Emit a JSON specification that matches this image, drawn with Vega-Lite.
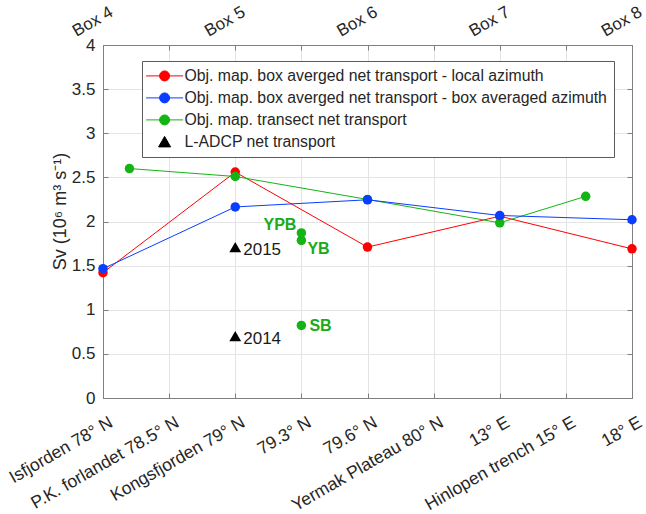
{
  "$schema": "https://vega.github.io/schema/vega-lite/v6.json",
  "autosize": "none",
  "padding": {"left": 103, "top": 45, "right": 14, "bottom": 116},
  "width": 529,
  "height": 353,
  "background": "white",
  "config": {
    "view": {"stroke": null},
    "font": "Liberation Sans",
    "axis": {
      "labelFont": "Liberation Sans",
      "titleFont": "Liberation Sans",
      "labelFontSize": 17,
      "labelColor": "#262626",
      "titleColor": "#262626",
      "domainColor": "#808080",
      "tickColor": "#808080",
      "domainWidth": 1,
      "tickWidth": 1,
      "tickSize": -5,
      "gridColor": "#e4e4e4",
      "gridWidth": 1,
      "labelFlush": false,
      "labelOverlap": false,
      "labelBound": false
    }
  },
  "data": {
    "values": [
      {"series": "Obj. map. box averged net transport - local azimuth", "x": 0, "y": 1.42},
      {"series": "Obj. map. box averged net transport - local azimuth", "x": 2, "y": 2.56},
      {"series": "Obj. map. box averged net transport - local azimuth", "x": 4, "y": 1.71},
      {"series": "Obj. map. box averged net transport - local azimuth", "x": 6, "y": 2.06},
      {"series": "Obj. map. box averged net transport - local azimuth", "x": 8, "y": 1.69},
      {"series": "Obj. map. transect net transport", "x": 0.4, "y": 2.6},
      {"series": "Obj. map. transect net transport", "x": 2, "y": 2.51},
      {"series": "Obj. map. transect net transport", "x": 4, "y": 2.25},
      {"series": "Obj. map. transect net transport", "x": 6, "y": 1.985},
      {"series": "Obj. map. transect net transport", "x": 7.3, "y": 2.285},
      {"series": "Obj. map. transect net transport", "x": 3, "y": 1.87, "label": "YPB"},
      {"series": "Obj. map. transect net transport", "x": 3, "y": 1.785, "label": "YB"},
      {"series": "Obj. map. transect net transport", "x": 3, "y": 0.822, "label": "SB"},
      {"series": "Obj. map. box averged net transport - box averaged azimuth", "x": 0, "y": 1.465},
      {"series": "Obj. map. box averged net transport - box averaged azimuth", "x": 2, "y": 2.165},
      {"series": "Obj. map. box averged net transport - box averaged azimuth", "x": 4, "y": 2.246},
      {"series": "Obj. map. box averged net transport - box averaged azimuth", "x": 6, "y": 2.068},
      {"series": "Obj. map. box averged net transport - box averaged azimuth", "x": 8, "y": 2.02},
      {"series": "L-ADCP net transport", "x": 2, "y": 1.71, "label": "2015"},
      {"series": "L-ADCP net transport", "x": 2, "y": 0.7, "label": "2014"}
    ]
  },
  "resolve": {"axis": {"x": "independent", "y": "independent"}},
  "layer": [
    {
      "transform": [{"filter": "datum.series != 'L-ADCP net transport' && !datum.label"}],
      "mark": {"type": "line", "strokeWidth": 1},
      "encoding": {
        "x": {
          "field": "x", "type": "quantitative",
          "scale": {"domain": [0, 8], "nice": false, "zero": false},
          "axis": {
            "orient": "bottom", "title": null, "grid": true,
            "values": [0, 1, 2, 3, 4, 5, 6, 7, 8],
            "labelExpr": "['Isfjorden 78° N', 'P.K. forlandet 78.5° N', 'Kongsfjorden 79° N', '79.3° N', '79.6° N', 'Yermak Plateau 80° N', '13° E', 'Hinlopen trench 15° E', '18° E'][datum.value]",
            "labelFontSize": 17.5,
            "labelAngle": -30, "labelAlign": "right", "labelBaseline": "top",
            "labelOffset": 3.5, "labelPadding": 20
          }
        },
        "y": {
          "field": "y", "type": "quantitative",
          "scale": {"domain": [0, 4], "nice": false},
          "axis": {
            "orient": "left", "grid": true,
            "values": [0, 0.5, 1, 1.5, 2, 2.5, 3, 3.5, 4], "format": "~g",
            "labelPadding": 13,
            "title": "Sv (10⁶ m³ s⁻¹)", "titleFontSize": 18, "titleFontWeight": "normal",
            "titleAngle": -90, "titleAlign": "center", "titleBaseline": "alphabetic",
            "titleX": -38, "titleY": 166
          }
        },
        "color": {
          "field": "series", "type": "nominal",
          "scale": {
            "domain": [
              "Obj. map. box averged net transport - local azimuth",
              "Obj. map. box averged net transport - box averaged azimuth",
              "Obj. map. transect net transport",
              "L-ADCP net transport"
            ],
            "range": ["#ff0000", "#0a3dff", "#14b414", "#000000"]
          },
          "legend": {
            "orient": "none", "legendX": 39, "legendY": 16,
            "title": null, "padding": 7,
            "strokeColor": "#5a5a5a", "fillColor": "white",
            "labelFont": "Liberation Sans", "labelFontSize": 15.8, "labelColor": "#262626",
            "labelLimit": 600, "symbolSize": 100, "symbolOffset": 7.7, "labelOffset": 12,
            "rowPadding": 5,
            "encode": {
              "symbols": {
                "update": {
                  "shape": {"signal": "datum.value == 'L-ADCP net transport' ? 'M -1.2 1 L 1.2 1 L 0 -1.1 Z' : 'M -3.7 0 L 3.7 0 M 1 0 A 1 1 0 1 1 -1 0 A 1 1 0 1 1 1 0 Z'"},
                  "fill": {"scale": "color", "field": "value"},
                  "stroke": {"scale": "color", "field": "value"},
                  "strokeWidth": {"value": 1},
                  "opacity": {"value": 1},
                  "size": {"value": 100}
                }
              }
            }
          }
        }
      }
    },
    {
      "transform": [{"filter": "datum.series != 'L-ADCP net transport'"}],
      "mark": {"type": "point", "shape": "circle", "filled": true, "opacity": 1, "size": 90},
      "encoding": {
        "x": {
          "field": "x", "type": "quantitative",
          "axis": {
            "orient": "top", "title": null, "grid": false,
            "values": [0, 1, 2, 3, 4, 5, 6, 7, 8],
            "labelExpr": "datum.value % 2 == 0 ? 'Box ' + (datum.value / 2 + 4) : ''",
            "labelAngle": -30, "labelAlign": "left", "labelBaseline": "bottom",
            "labelOffset": -25, "labelPadding": 10
          }
        },
        "y": {
          "field": "y", "type": "quantitative",
          "axis": {
            "orient": "right", "title": null, "grid": false, "labels": false,
            "values": [0, 0.5, 1, 1.5, 2, 2.5, 3, 3.5, 4]
          }
        },
        "color": {"field": "series", "type": "nominal"}
      }
    },
    {
      "transform": [{"filter": "datum.series == 'L-ADCP net transport'"}],
      "mark": {"type": "point", "shape": "triangle-up", "filled": true, "opacity": 1, "size": 140},
      "encoding": {
        "x": {"field": "x", "type": "quantitative", "axis": null},
        "y": {"field": "y", "type": "quantitative", "axis": null},
        "color": {"field": "series", "type": "nominal"}
      }
    },
    {
      "transform": [{"filter": "datum.series == 'L-ADCP net transport'"}],
      "mark": {"type": "text", "align": "left", "baseline": "middle", "dx": 8, "dy": 3, "fontSize": 17, "font": "Liberation Sans", "color": "#1a1a1a"},
      "encoding": {
        "x": {"field": "x", "type": "quantitative", "axis": null},
        "y": {"field": "y", "type": "quantitative", "axis": null},
        "text": {"field": "label"}
      }
    },
    {
      "transform": [{"filter": "datum.label == 'YPB'"}],
      "mark": {"type": "text", "align": "right", "baseline": "middle", "dx": -5, "dy": -8, "fontSize": 16, "fontWeight": "bold", "font": "Liberation Sans", "color": "#1aaa1a"},
      "encoding": {
        "x": {"field": "x", "type": "quantitative", "axis": null},
        "y": {"field": "y", "type": "quantitative", "axis": null},
        "text": {"field": "label"}
      }
    },
    {
      "transform": [{"filter": "datum.label == 'YB'"}],
      "mark": {"type": "text", "align": "left", "baseline": "middle", "dx": 6, "dy": 9, "fontSize": 16, "fontWeight": "bold", "font": "Liberation Sans", "color": "#1aaa1a"},
      "encoding": {
        "x": {"field": "x", "type": "quantitative", "axis": null},
        "y": {"field": "y", "type": "quantitative", "axis": null},
        "text": {"field": "label"}
      }
    },
    {
      "transform": [{"filter": "datum.label == 'SB'"}],
      "mark": {"type": "text", "align": "left", "baseline": "middle", "dx": 8, "dy": 1, "fontSize": 16, "fontWeight": "bold", "font": "Liberation Sans", "color": "#1aaa1a"},
      "encoding": {
        "x": {"field": "x", "type": "quantitative", "axis": null},
        "y": {"field": "y", "type": "quantitative", "axis": null},
        "text": {"field": "label"}
      }
    }
  ]
}
